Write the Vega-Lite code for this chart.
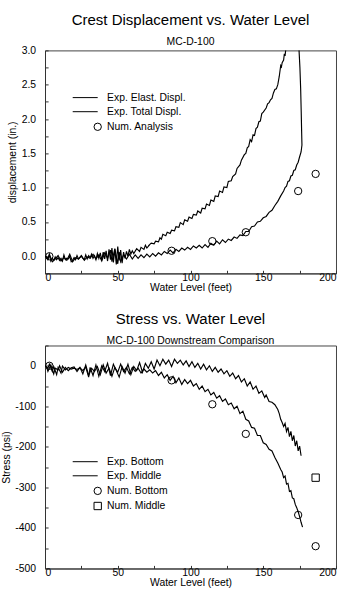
{
  "$schema": "https://vega.github.io/schema/vega-lite/v6.json",
  "background": "white",
  "padding": {"left": 0, "top": 11.4, "right": 0, "bottom": 0},
  "spacing": 17.1,
  "config": {
    "font": "Liberation Sans",
    "view": {"stroke": "#444", "strokeWidth": 1},
    "axis": {"grid": false, "domainColor": "#333", "tickColor": "#333", "tickSize": -3.1, "labelFontSize": 10.4, "labelColor": "#000", "titleFontSize": 10.4, "titleFontWeight": "normal", "titleColor": "#000", "labelFont": "Liberation Sans", "titleFont": "Liberation Sans"},
    "title": {"font": "Liberation Sans", "fontSize": 15, "fontWeight": "normal", "subtitleFont": "Liberation Sans", "subtitleFontSize": 10.4, "subtitlePadding": 8.8, "offset": -1.6, "frame": "group", "anchor": "middle", "color": "#000", "subtitleColor": "#000"},
    "legend": {"labelFont": "Liberation Sans", "labelFontSize": 10.4, "labelColor": "#000", "symbolSize": 54, "symbolStrokeWidth": 1, "rowPadding": 3.1, "labelOffset": 4.2}
  },
  "resolve": {"scale": {"shape": "independent"}, "legend": {"shape": "independent"}},
  "datasets": {
    "disp": [
      {"s":"U","x":1,"y":0.00},{"s":"U","x":2,"y":-0.05},{"s":"U","x":3,"y":0.02},{"s":"U","x":4,"y":-0.07},{"s":"U","x":5,"y":-0.03},{"s":"U","x":6,"y":-0.06},{"s":"U","x":7,"y":-0.01},{"s":"U","x":8,"y":-0.05},{"s":"U","x":9,"y":-0.02},{"s":"U","x":10,"y":-0.06},{"s":"U","x":11,"y":-0.03},{"s":"U","x":12,"y":-0.07},{"s":"U","x":13,"y":0.02},{"s":"U","x":14,"y":-0.05},{"s":"U","x":15,"y":-0.03},{"s":"U","x":16,"y":-0.04},{"s":"U","x":17,"y":0.0},{"s":"U","x":18,"y":-0.08},{"s":"U","x":19,"y":-0.06},{"s":"U","x":20,"y":-0.02},{"s":"U","x":21,"y":-0.05},{"s":"U","x":22,"y":0.01},{"s":"U","x":23,"y":-0.04},{"s":"U","x":24,"y":-0.02},{"s":"U","x":25,"y":0.0},{"s":"U","x":26,"y":-0.03},{"s":"U","x":27,"y":-0.05},{"s":"U","x":28,"y":0.02},{"s":"U","x":29,"y":-0.04},{"s":"U","x":30,"y":0.01},{"s":"U","x":31,"y":-0.02},{"s":"U","x":32,"y":0.03},{"s":"U","x":33,"y":-0.03},{"s":"U","x":34,"y":0.01},{"s":"U","x":35,"y":-0.05},{"s":"U","x":36,"y":0.04},{"s":"U","x":37,"y":-0.03},{"s":"U","x":38,"y":0.05},{"s":"U","x":39,"y":-0.06},{"s":"U","x":40,"y":0.06},{"s":"U","x":41,"y":-0.04},{"s":"U","x":42,"y":0.08},{"s":"U","x":43,"y":-0.07},{"s":"U","x":44,"y":0.1},{"s":"U","x":45,"y":-0.05},{"s":"U","x":46,"y":0.12},{"s":"U","x":47,"y":-0.09},{"s":"U","x":48,"y":0.1},{"s":"U","x":49,"y":-0.12},{"s":"U","x":50,"y":0.14},{"s":"U","x":51,"y":-0.06},{"s":"U","x":52,"y":0.09},{"s":"U","x":53,"y":-0.1},{"s":"U","x":54,"y":0.06},{"s":"U","x":55,"y":-0.03},{"s":"U","x":56,"y":0.07},{"s":"U","x":57,"y":0.0},{"s":"U","x":58,"y":0.1},{"s":"U","x":59,"y":0.03},{"s":"U","x":60,"y":0.08},{"s":"U","x":61,"y":0.04},{"s":"U","x":63,"y":0.11},{"s":"U","x":65,"y":0.07},{"s":"U","x":66,"y":0.13},{"s":"U","x":68,"y":0.1},{"s":"U","x":69,"y":0.16},{"s":"U","x":70,"y":0.12},{"s":"U","x":72,"y":0.17},{"s":"U","x":71,"y":0.15},{"s":"U","x":73,"y":0.19},{"s":"U","x":75,"y":0.18},{"s":"U","x":76,"y":0.22},{"s":"U","x":78,"y":0.21},{"s":"U","x":79,"y":0.27},{"s":"U","x":80,"y":0.25},{"s":"U","x":81,"y":0.32},{"s":"U","x":83,"y":0.3},{"s":"U","x":84,"y":0.35},{"s":"U","x":86,"y":0.33},{"s":"U","x":87,"y":0.38},{"s":"U","x":89,"y":0.37},{"s":"U","x":90,"y":0.43},{"s":"U","x":92,"y":0.42},{"s":"U","x":93,"y":0.49},{"s":"U","x":95,"y":0.46},{"s":"U","x":96,"y":0.53},{"s":"U","x":98,"y":0.51},{"s":"U","x":99,"y":0.57},{"s":"U","x":101,"y":0.55},{"s":"U","x":102,"y":0.61},{"s":"U","x":104,"y":0.6},{"s":"U","x":105,"y":0.66},{"s":"U","x":107,"y":0.63},{"s":"U","x":108,"y":0.7},{"s":"U","x":110,"y":0.69},{"s":"U","x":111,"y":0.76},{"s":"U","x":113,"y":0.74},{"s":"U","x":114,"y":0.82},{"s":"U","x":116,"y":0.8},{"s":"U","x":117,"y":0.88},{"s":"U","x":119,"y":0.87},{"s":"U","x":120,"y":0.95},{"s":"U","x":122,"y":0.93},{"s":"U","x":123,"y":1.01},{"s":"U","x":125,"y":1.0},{"s":"U","x":126,"y":1.09},{"s":"U","x":128,"y":1.1},{"s":"U","x":129,"y":1.16},{"s":"U","x":131,"y":1.2},{"s":"U","x":132,"y":1.28},{"s":"U","x":134,"y":1.33},{"s":"U","x":135,"y":1.4},{"s":"U","x":137,"y":1.48},{"s":"U","x":138,"y":1.5},{"s":"U","x":139,"y":1.58},{"s":"U","x":140,"y":1.6},{"s":"U","x":141,"y":1.7},{"s":"U","x":142,"y":1.67},{"s":"U","x":143,"y":1.77},{"s":"U","x":144,"y":1.76},{"s":"U","x":145,"y":1.86},{"s":"U","x":146,"y":1.88},{"s":"U","x":147,"y":1.96},{"s":"U","x":148,"y":1.97},{"s":"U","x":149,"y":2.08},{"s":"U","x":150,"y":2.1},{"s":"U","x":152,"y":2.16},{"s":"U","x":153,"y":2.22},{"s":"U","x":154,"y":2.24},{"s":"U","x":155,"y":2.28},{"s":"U","x":156,"y":2.3},{"s":"U","x":157,"y":2.38},{"s":"U","x":158,"y":2.43},{"s":"U","x":159,"y":2.44},{"s":"U","x":160,"y":2.5},{"s":"U","x":161,"y":2.62},{"s":"U","x":162,"y":2.78},{"s":"U","x":162.5,"y":2.76},{"s":"U","x":163,"y":2.82},{"s":"U","x":164,"y":2.86},{"s":"U","x":164.5,"y":2.95},{"s":"U","x":165,"y":2.92},{"s":"U","x":165.5,"y":3.02},{"s":"U","x":166,"y":3.15},{"s":"U","x":167,"y":3.4},
      {"s":"L","x":0,"y":0.0},{"s":"L","x":2,"y":-0.03},{"s":"L","x":3,"y":0.03},{"s":"L","x":5,"y":-0.08},{"s":"L","x":7,"y":-0.04},{"s":"L","x":9,"y":0.01},{"s":"L","x":11,"y":-0.07},{"s":"L","x":13,"y":-0.02},{"s":"L","x":15,"y":-0.06},{"s":"L","x":17,"y":0.03},{"s":"L","x":19,"y":-0.08},{"s":"L","x":21,"y":-0.02},{"s":"L","x":23,"y":-0.04},{"s":"L","x":25,"y":0.01},{"s":"L","x":27,"y":-0.06},{"s":"L","x":29,"y":-0.01},{"s":"L","x":31,"y":-0.03},{"s":"L","x":33,"y":0.03},{"s":"L","x":35,"y":-0.04},{"s":"L","x":37,"y":0.02},{"s":"L","x":39,"y":-0.07},{"s":"L","x":41,"y":0.05},{"s":"L","x":43,"y":-0.03},{"s":"L","x":45,"y":0.09},{"s":"L","x":46,"y":-0.08},{"s":"L","x":48,"y":0.11},{"s":"L","x":50,"y":-0.11},{"s":"L","x":51,"y":0.06},{"s":"L","x":52,"y":-0.08},{"s":"L","x":54,"y":0.02},{"s":"L","x":56,"y":-0.04},{"s":"L","x":58,"y":0.03},{"s":"L","x":60,"y":-0.04},{"s":"L","x":62,"y":0.02},{"s":"L","x":64,"y":-0.03},{"s":"L","x":66,"y":0.02},{"s":"L","x":68,"y":-0.02},{"s":"L","x":70,"y":0.03},{"s":"L","x":72,"y":-0.01},{"s":"L","x":74,"y":0.04},{"s":"L","x":76,"y":0.0},{"s":"L","x":78,"y":0.05},{"s":"L","x":80,"y":0.02},{"s":"L","x":82,"y":0.07},{"s":"L","x":84,"y":0.04},{"s":"L","x":86,"y":0.09},{"s":"L","x":88,"y":0.05},{"s":"L","x":90,"y":0.1},{"s":"L","x":92,"y":0.07},{"s":"L","x":94,"y":0.12},{"s":"L","x":96,"y":0.09},{"s":"L","x":98,"y":0.13},{"s":"L","x":100,"y":0.1},{"s":"L","x":102,"y":0.15},{"s":"L","x":104,"y":0.12},{"s":"L","x":106,"y":0.16},{"s":"L","x":108,"y":0.12},{"s":"L","x":110,"y":0.17},{"s":"L","x":112,"y":0.13},{"s":"L","x":114,"y":0.19},{"s":"L","x":116,"y":0.16},{"s":"L","x":118,"y":0.22},{"s":"L","x":120,"y":0.18},{"s":"L","x":122,"y":0.24},{"s":"L","x":124,"y":0.2},{"s":"L","x":126,"y":0.25},{"s":"L","x":128,"y":0.23},{"s":"L","x":130,"y":0.28},{"s":"L","x":132,"y":0.26},{"s":"L","x":134,"y":0.31},{"s":"L","x":136,"y":0.3},{"s":"L","x":138,"y":0.36},{"s":"L","x":140,"y":0.36},{"s":"L","x":142,"y":0.43},{"s":"L","x":144,"y":0.44},{"s":"L","x":146,"y":0.5},{"s":"L","x":148,"y":0.51},{"s":"L","x":150,"y":0.56},{"s":"L","x":152,"y":0.58},{"s":"L","x":154,"y":0.64},{"s":"L","x":156,"y":0.67},{"s":"L","x":158,"y":0.74},{"s":"L","x":160,"y":0.8},{"s":"L","x":162,"y":0.88},{"s":"L","x":164,"y":0.95},{"s":"L","x":165,"y":1.0},{"s":"L","x":166,"y":1.02},{"s":"L","x":167,"y":1.09},{"s":"L","x":168,"y":1.1},{"s":"L","x":169,"y":1.17},{"s":"L","x":170,"y":1.18},{"s":"L","x":171,"y":1.25},{"s":"L","x":172,"y":1.26},{"s":"L","x":173,"y":1.33},{"s":"L","x":174,"y":1.37},{"s":"L","x":175,"y":1.45},{"s":"L","x":176,"y":1.52},{"s":"L","x":176.6,"y":1.62},{"s":"L","x":176.4,"y":1.8},{"s":"L","x":176.1,"y":2.1},{"s":"L","x":175.7,"y":2.45},{"s":"L","x":175.2,"y":2.75},{"s":"L","x":174.6,"y":3.0},{"s":"L","x":174.2,"y":3.3}
    ],
    "dispnum": [
      {"s":"Num. Analysis","x":3,"y":0.0},{"s":"Num. Analysis","x":87,"y":0.08},{"s":"Num. Analysis","x":115,"y":0.22},{"s":"Num. Analysis","x":138,"y":0.35},{"s":"Num. Analysis","x":174,"y":0.95},{"s":"Num. Analysis","x":186,"y":1.2}
    ],
    "stress": [
      {"s":"M","x":0,"y":0},{"s":"M","x":2,"y":-6},{"s":"M","x":3,"y":4},{"s":"M","x":5,"y":-14},{"s":"M","x":6,"y":-2},{"s":"M","x":8,"y":-22},{"s":"M","x":9,"y":-4},{"s":"M","x":11,"y":-18},{"s":"M","x":12,"y":-1},{"s":"M","x":14,"y":-10},{"s":"M","x":16,"y":-4},{"s":"M","x":18,"y":-8},{"s":"M","x":20,"y":-6},{"s":"M","x":22,"y":-9},{"s":"M","x":24,"y":-5},{"s":"M","x":26,"y":-12},{"s":"M","x":28,"y":-3},{"s":"M","x":30,"y":-28},{"s":"M","x":31,"y":-4},{"s":"M","x":33,"y":-24},{"s":"M","x":35,"y":2},{"s":"M","x":37,"y":-26},{"s":"M","x":39,"y":0},{"s":"M","x":41,"y":-14},{"s":"M","x":43,"y":6},{"s":"M","x":45,"y":-24},{"s":"M","x":47,"y":4},{"s":"M","x":49,"y":-12},{"s":"M","x":51,"y":-28},{"s":"M","x":53,"y":-2},{"s":"M","x":55,"y":-18},{"s":"M","x":57,"y":4},{"s":"M","x":59,"y":-22},{"s":"M","x":61,"y":-2},{"s":"M","x":63,"y":-12},{"s":"M","x":65,"y":8},{"s":"M","x":67,"y":-16},{"s":"M","x":69,"y":6},{"s":"M","x":71,"y":-6},{"s":"M","x":73,"y":10},{"s":"M","x":75,"y":-8},{"s":"M","x":77,"y":14},{"s":"M","x":79,"y":0},{"s":"M","x":81,"y":16},{"s":"M","x":83,"y":4},{"s":"M","x":85,"y":14},{"s":"M","x":87,"y":-2},{"s":"M","x":89,"y":16},{"s":"M","x":91,"y":6},{"s":"M","x":93,"y":14},{"s":"M","x":95,"y":2},{"s":"M","x":97,"y":12},{"s":"M","x":99,"y":-2},{"s":"M","x":101,"y":10},{"s":"M","x":103,"y":-4},{"s":"M","x":105,"y":6},{"s":"M","x":107,"y":-8},{"s":"M","x":109,"y":4},{"s":"M","x":111,"y":-10},{"s":"M","x":113,"y":0},{"s":"M","x":115,"y":-14},{"s":"M","x":117,"y":-4},{"s":"M","x":119,"y":-16},{"s":"M","x":121,"y":-8},{"s":"M","x":123,"y":-20},{"s":"M","x":125,"y":-12},{"s":"M","x":127,"y":-26},{"s":"M","x":129,"y":-18},{"s":"M","x":131,"y":-32},{"s":"M","x":133,"y":-24},{"s":"M","x":135,"y":-40},{"s":"M","x":137,"y":-32},{"s":"M","x":139,"y":-50},{"s":"M","x":141,"y":-40},{"s":"M","x":143,"y":-58},{"s":"M","x":145,"y":-50},{"s":"M","x":147,"y":-68},{"s":"M","x":149,"y":-62},{"s":"M","x":151,"y":-78},{"s":"M","x":152,"y":-72},{"s":"M","x":154,"y":-88},{"s":"M","x":156,"y":-90},{"s":"M","x":158,"y":-96},{"s":"M","x":160,"y":-108},{"s":"M","x":161,"y":-118},{"s":"M","x":162,"y":-132},{"s":"M","x":163,"y":-140},{"s":"M","x":164,"y":-150},{"s":"M","x":165,"y":-142},{"s":"M","x":166,"y":-162},{"s":"M","x":167,"y":-152},{"s":"M","x":168,"y":-175},{"s":"M","x":169,"y":-162},{"s":"M","x":170,"y":-185},{"s":"M","x":171,"y":-172},{"s":"M","x":172,"y":-198},{"s":"M","x":173,"y":-185},{"s":"M","x":174,"y":-210},{"s":"M","x":175,"y":-198},{"s":"M","x":176,"y":-222},
      {"s":"B","x":1,"y":-2},{"s":"B","x":2,"y":-14},{"s":"B","x":4,"y":2},{"s":"B","x":6,"y":-20},{"s":"B","x":7,"y":-6},{"s":"B","x":9,"y":-10},{"s":"B","x":10,"y":0},{"s":"B","x":12,"y":-16},{"s":"B","x":14,"y":-4},{"s":"B","x":16,"y":-12},{"s":"B","x":18,"y":-5},{"s":"B","x":20,"y":-3},{"s":"B","x":22,"y":-14},{"s":"B","x":24,"y":-4},{"s":"B","x":26,"y":-20},{"s":"B","x":28,"y":2},{"s":"B","x":30,"y":-24},{"s":"B","x":32,"y":-6},{"s":"B","x":34,"y":-14},{"s":"B","x":36,"y":-2},{"s":"B","x":38,"y":-22},{"s":"B","x":40,"y":2},{"s":"B","x":42,"y":-18},{"s":"B","x":44,"y":-6},{"s":"B","x":46,"y":-26},{"s":"B","x":48,"y":-4},{"s":"B","x":50,"y":-16},{"s":"B","x":52,"y":4},{"s":"B","x":54,"y":-14},{"s":"B","x":56,"y":-4},{"s":"B","x":58,"y":-20},{"s":"B","x":60,"y":-4},{"s":"B","x":62,"y":-14},{"s":"B","x":64,"y":-6},{"s":"B","x":66,"y":-18},{"s":"B","x":68,"y":-8},{"s":"B","x":70,"y":-16},{"s":"B","x":72,"y":-10},{"s":"B","x":74,"y":-18},{"s":"B","x":76,"y":-12},{"s":"B","x":78,"y":-24},{"s":"B","x":80,"y":-16},{"s":"B","x":82,"y":-30},{"s":"B","x":84,"y":-22},{"s":"B","x":86,"y":-36},{"s":"B","x":88,"y":-26},{"s":"B","x":90,"y":-42},{"s":"B","x":92,"y":-30},{"s":"B","x":94,"y":-46},{"s":"B","x":96,"y":-34},{"s":"B","x":98,"y":-44},{"s":"B","x":100,"y":-36},{"s":"B","x":102,"y":-50},{"s":"B","x":104,"y":-44},{"s":"B","x":106,"y":-58},{"s":"B","x":108,"y":-50},{"s":"B","x":110,"y":-64},{"s":"B","x":112,"y":-58},{"s":"B","x":114,"y":-72},{"s":"B","x":116,"y":-66},{"s":"B","x":118,"y":-80},{"s":"B","x":120,"y":-74},{"s":"B","x":122,"y":-88},{"s":"B","x":124,"y":-82},{"s":"B","x":126,"y":-96},{"s":"B","x":128,"y":-92},{"s":"B","x":130,"y":-106},{"s":"B","x":132,"y":-100},{"s":"B","x":134,"y":-118},{"s":"B","x":136,"y":-112},{"s":"B","x":138,"y":-132},{"s":"B","x":140,"y":-136},{"s":"B","x":142,"y":-152},{"s":"B","x":144,"y":-154},{"s":"B","x":146,"y":-172},{"s":"B","x":148,"y":-172},{"s":"B","x":150,"y":-190},{"s":"B","x":152,"y":-194},{"s":"B","x":154,"y":-206},{"s":"B","x":156,"y":-210},{"s":"B","x":158,"y":-226},{"s":"B","x":160,"y":-240},{"s":"B","x":162,"y":-256},{"s":"B","x":163,"y":-262},{"s":"B","x":164,"y":-276},{"s":"B","x":165,"y":-272},{"s":"B","x":166,"y":-292},{"s":"B","x":167,"y":-290},{"s":"B","x":168,"y":-310},{"s":"B","x":169,"y":-308},{"s":"B","x":170,"y":-326},{"s":"B","x":171,"y":-328},{"s":"B","x":172,"y":-342},{"s":"B","x":173,"y":-350},{"s":"B","x":174,"y":-360},{"s":"B","x":175,"y":-372},{"s":"B","x":176,"y":-386},{"s":"B","x":177,"y":-398}
    ],
    "stressnum": [
      {"s":"Num. Bottom","x":3,"y":0},{"s":"Num. Bottom","x":87,"y":-36},{"s":"Num. Bottom","x":115,"y":-95},{"s":"Num. Bottom","x":138,"y":-168},{"s":"Num. Bottom","x":174,"y":-368},{"s":"Num. Bottom","x":186,"y":-445},{"s":"Num. Middle","x":186,"y":-276}
    ]
  },
  "vconcat": [
    {
      "width": 291,
      "height": 223,
      "title": {"text": "Crest Displacement vs. Water Level", "subtitle": "MC-D-100", "fontWeight": "normal"},
      "encoding": {
        "x": {"field": "x", "type": "quantitative", "scale": {"domain": [0, 200], "nice": false}, "axis": {"title": "Water Level (feet)", "values": [0,25,50,75,100,125,150,175,200], "labelExpr": "datum.value % 50 == 0 ? datum.label : ''", "labelPadding": 2.1, "titlePadding": 0}},
        "y": {"field": "y", "type": "quantitative", "scale": {"domain": [-0.25, 3.0], "nice": false, "zero": false}, "axis": {"title": "displacement (in.)", "values": [-0.25,0,0.25,0.5,0.75,1,1.25,1.5,1.75,2,2.25,2.5,2.75,3], "format": ".1f", "labelExpr": "datum.value % 0.5 == 0 ? datum.label : ''", "labelPadding": 12.5, "titlePadding": 3.6}}
      },
      "layer": [
        {"data": {"name": "disp"}, "mark": {"type": "line", "color": "black", "strokeWidth": 1.15, "clip": true}, "encoding": {"detail": {"field": "s"}, "order": {"value": null}}},
        {"data": {"name": "dispnum"}, "mark": {"type": "point", "filled": false, "color": "black", "size": 54, "strokeWidth": 1, "opacity": 1},
         "encoding": {"shape": {"field": "s", "type": "nominal", "scale": {"domain": ["Exp. Elast. Displ.", "Exp. Total Displ.", "Num. Analysis"], "range": ["M-6.8,0H0", "M-6.8,0H0", "circle"]}, "legend": {"title": null, "orient": "none", "legendX": 47.5, "legendY": 42}}}},
        {"data": {"values": [{}]}, "mark": {"type": "text", "align": "left", "baseline": "middle", "fontSize": 10.4, "color": "black"}, "encoding": {"x": {"datum": 19, "type": "quantitative"}, "y": {"datum": 1.06, "type": "quantitative"}, "text": {"value": "E=2,500 ksi"}}}
      ]
    },
    {
      "width": 291,
      "height": 223,
      "title": {"text": "Stress vs. Water Level", "subtitle": "MC-D-100 Downstream Comparison", "fontWeight": "normal"},
      "encoding": {
        "x": {"field": "x", "type": "quantitative", "scale": {"domain": [0, 200], "nice": false}, "axis": {"title": "Water Level (feet)", "values": [0,25,50,75,100,125,150,175,200], "labelExpr": "datum.value % 50 == 0 ? datum.label : ''", "labelPadding": 2.1, "titlePadding": 0}},
        "y": {"field": "y", "type": "quantitative", "scale": {"domain": [-500, 50], "nice": false, "zero": false}, "axis": {"title": "Stress (psi)", "values": [-500,-450,-400,-350,-300,-250,-200,-150,-100,-50,0,50], "labelExpr": "datum.value % 100 == 0 ? '' + datum.value : ''", "labelPadding": 12.5, "titlePadding": 3.6}}
      },
      "layer": [
        {"data": {"name": "stress"}, "mark": {"type": "line", "color": "black", "strokeWidth": 1.15, "clip": true}, "encoding": {"detail": {"field": "s"}, "order": {"value": null}}},
        {"data": {"name": "stressnum"}, "mark": {"type": "point", "filled": false, "color": "black", "size": 54, "strokeWidth": 1, "opacity": 1},
         "encoding": {"shape": {"field": "s", "type": "nominal", "scale": {"domain": ["Exp. Bottom", "Exp. Middle", "Num. Bottom", "Num. Middle"], "range": ["M-6.8,0H0", "M-6.8,0H0", "circle", "square"]}, "legend": {"title": null, "orient": "none", "legendX": 47.5, "legendY": 111}}}},
        {"data": {"values": [{}]}, "mark": {"type": "text", "align": "left", "baseline": "middle", "fontSize": 10.4, "color": "black"}, "encoding": {"x": {"datum": 93, "type": "quantitative"}, "y": {"datum": -290, "type": "quantitative"}, "text": {"value": "E=2,500 ksi"}}}
      ]
    }
  ]
}
